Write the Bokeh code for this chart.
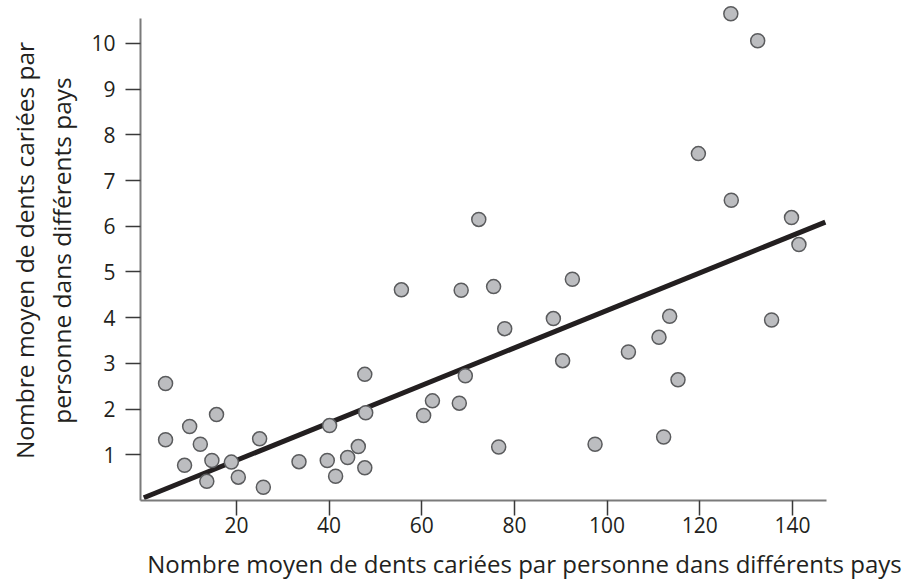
from bokeh.plotting import figure
from bokeh.models import Range1d, FixedTicker, LinearAxis
from bokeh.embed import file_html
from bokeh.resources import INLINE

# Data
caries_x = [4.7, 4.7, 9.9, 8.8, 12.2, 15.7, 14.7, 13.6, 18.9, 20.4, 25.0, 25.8,
            33.5, 39.6, 40.1, 41.4, 44.0, 46.3, 47.7, 47.9, 47.7, 55.6, 60.4, 62.3,
            68.1, 68.5, 69.4, 75.5, 72.3, 77.9, 76.6, 88.4, 90.4, 92.5, 97.4, 104.6,
            111.2, 113.5, 115.3, 112.2, 135.5, 119.7, 126.8, 126.7, 132.5, 139.8, 141.4]
caries_y = [2.56, 1.33, 1.62, 0.77, 1.23, 1.88, 0.875, 0.42, 0.84, 0.51, 1.35, 0.29,
            0.85, 0.875, 1.64, 0.53, 0.94, 1.18, 0.715, 1.92, 2.76, 4.61, 1.86, 2.18,
            2.13, 4.60, 2.73, 4.68, 6.15, 3.76, 1.17, 3.98, 3.06, 4.84, 1.23, 3.25,
            3.57, 4.03, 2.64, 1.39, 3.95, 7.59, 6.57, 10.65, 10.06, 6.19, 5.60]
fit_intercept = 0.06
fit_slope = 0.041
fit_x = [0.0, 147.1]
fit_y = [fit_intercept + fit_slope * v for v in fit_x]

x_ticks = [20, 40, 60, 80, 100, 120, 140]
y_ticks = [1, 2, 3, 4, 5, 6, 7, 8, 9, 10]

x_label = "Nombre moyen de dents cariées par personne dans différents pays"
y_label_1 = "Nombre moyen de dents cariées par"
y_label_2 = "personne dans différents pays"

FONT = "Open Sans"
TEXT = "#231f20"

p = figure(width=908, height=584, output_backend="svg", toolbar_location=None,
           x_range=Range1d(-0.71, 165.05), y_range=Range1d(0, 10.94),
           min_border_left=140, min_border_right=0, min_border_top=0,
           min_border_bottom=84)
p.grid.visible = False
p.outline_line_color = None
p.background_fill_color = "white"

for ax in (p.xaxis[0], p.yaxis[0]):
    ax.axis_line_color = "#7a7a7a"
    ax.axis_line_width = 2
    ax.major_tick_line_color = "#3a3a3a"
    ax.major_tick_line_width = 1.5
    ax.major_tick_in = 0
    ax.major_tick_out = 15
    ax.minor_tick_line_color = None
    ax.major_label_text_font = FONT
    ax.major_label_text_font_size = "21px"
    ax.major_label_text_color = TEXT
    ax.axis_label_text_font = FONT
    ax.axis_label_text_font_style = "normal"
    ax.axis_label_text_font_size = "24.5px"
    ax.axis_label_text_color = TEXT

p.xaxis[0].ticker = FixedTicker(ticks=x_ticks)
p.yaxis[0].ticker = FixedTicker(ticks=y_ticks)
p.xaxis[0].bounds = (-0.71, 147.3)
p.yaxis[0].bounds = (0, 10.55)
p.xaxis[0].major_label_standoff = 1
p.yaxis[0].major_label_standoff = 10

# second line of the y title on the main y axis
p.yaxis[0].axis_label = y_label_2
p.yaxis[0].axis_label_standoff = 10


def title_axis(label, size, standoff):
    a = LinearAxis(ticker=FixedTicker(ticks=[]), axis_line_color=None,
                   major_tick_line_color=None, minor_tick_line_color=None,
                   major_tick_out=0, major_tick_in=0, minor_tick_out=0,
                   major_label_text_font_size="0px",
                   axis_label=label, axis_label_standoff=standoff,
                   axis_label_text_font=FONT, axis_label_text_font_style="normal",
                   axis_label_text_font_size=size, axis_label_text_color=TEXT)
    return a


p.add_layout(title_axis(y_label_1, "24.5px", 2), "left")
p.add_layout(title_axis(x_label, "24px", 11), "below")

p.line(fit_x, fit_y, line_width=5, line_color=TEXT)
p.scatter(caries_x, caries_y, size=14, fill_color="#bcbdc0",
          line_color="#5a5b5d", line_width=1.5)

open("out.html", "w").write(file_html(p, INLINE))
